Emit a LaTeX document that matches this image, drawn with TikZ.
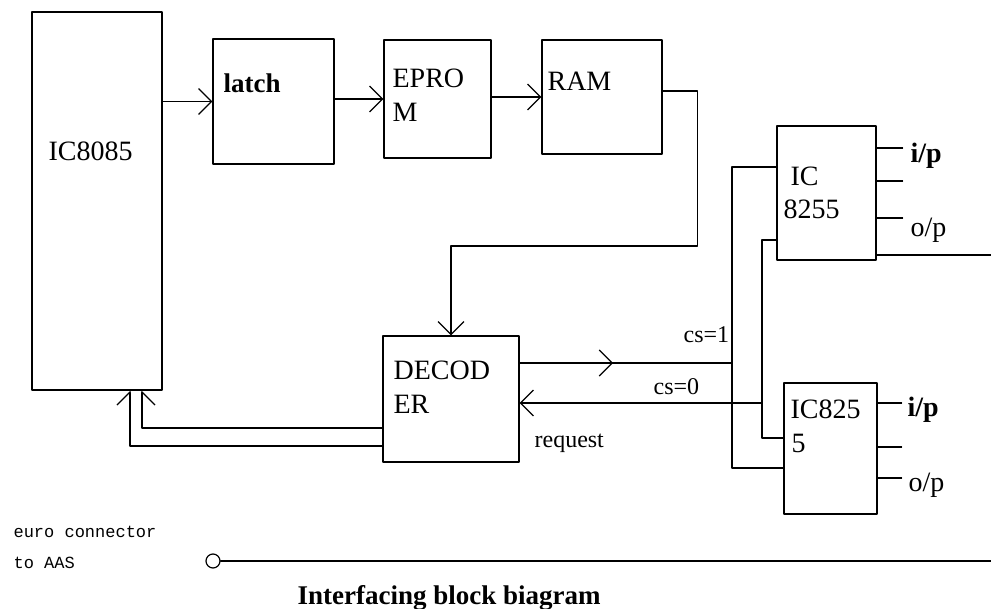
\documentclass[tikz,border=0pt]{standalone}
\usepackage{fontspec}
\setmainfont{Liberation Serif}
\newfontfamily\eurofont{Liberation Mono}
\usetikzlibrary{arrows.meta,decorations.markings}

\begin{document}
\begin{tikzpicture}[x=1pt, y=-1pt, line width=1.2pt, line cap=round, line join=round, >={Straight Barb[length=13pt,width=26pt]}]
	\tikzset{blk/.style={draw, inner sep=0},
		txt/.style={inner sep=0, anchor=base west, font=\fontsize{28}{30}\selectfont},
		small/.style={inner sep=0, anchor=base west, font=\fontsize{24}{26}\selectfont},
		midarr/.style={postaction={decorate}, decoration={markings, mark=at position #1 with {\arrow{>}}}}}
	\useasboundingbox (0,0) rectangle (991,609);
	% blocks
	\node[blk, minimum width=130pt, minimum height=378pt] (cpu) at (97,201) {};
	\node[blk, minimum width=121pt, minimum height=125pt] (latch) at (273.5,101.5) {};
	\node[blk, minimum width=107pt, minimum height=118pt] (eprom) at (437.5,99) {};
	\node[blk, minimum width=120pt, minimum height=114pt] (ram) at (602,97) {};
	\node[blk, minimum width=136pt, minimum height=126pt] (dec) at (451,399) {};
	\node[blk, minimum width=99pt, minimum height=134pt] (ppiA) at (826.5,193) {};
	\node[blk, minimum width=93pt, minimum height=131pt] (ppiB) at (830.5,448.5) {};
	\node[txt] (cpulbl) at (48,161) {IC8085};
	\node[txt, font=\fontsize{27}{30}\selectfont\bfseries] (latchlbl) at (223,93) {latch};
	\node[txt] (eprolbl) at (392,88) {EPRO};
	\node[txt] (eprolbl2) at (392,122) {M};
	\node[txt] (ramlbl) at (547,91) {RAM};
	\node[txt] (declbl) at (393,380) {DECOD};
	\node[txt] (declbl2) at (393,414) {ER};
	\node[txt] (ppialbl) at (790,186) {IC};
	\node[txt] (ppialbl2) at (783,219) {8255};
	\node[txt] (ppiblbl) at (790,419) {IC825};
	\node[txt] (ppiblbl2) at (791,453) {5};
	\node[txt, font=\fontsize{28}{30}\selectfont\bfseries] (ipA) at (910,163) {i/p};
	\node[txt] (opA) at (910,237) {o/p};
	\node[txt, font=\fontsize{28}{30}\selectfont\bfseries] (ipB) at (907,417) {i/p};
	\node[txt] (opB) at (908,492) {o/p};
	\node[small] (csonelbl) at (683,343) {cs=1};
	\node[small] (cszerolbl) at (653,395) {cs=0};
	\node[small] (reqlbl) at (534,448) {request};
	% bus
	\draw[->] (cpu.east |- latch.west) -- (latch.west);
	\draw[->] (latch.east |- eprom.west) -- (eprom.west);
	\draw[->] (eprom.east |- ram.west) -- (ram.west);
	\draw[->] ([yshift=6pt]ram.east) -- ++(35,0) -- ++(0,155) -| (dec.north);
	\coordinate (csone) at (732,363);
	\coordinate (cszero) at (762,403);
	\draw[midarr=0.44] ([yshift=36pt]dec.east) -- (csone);
	\draw[->] (cszero) -- (dec.east |- cszero);
	\draw[line width=2.4pt] (csone |- cszero) ++(-13,0) -- ++(19,0);
	\draw ([yshift=26pt]ppiA.west) -| (csone) |- ([yshift=-19.5pt]ppiB.west);
	\draw ([yshift=-47pt]ppiA.west) -| (cszero) |- ([yshift=10.5pt]ppiB.west);
	\draw[-{Straight Barb[left,length=13pt,width=26pt]}] ([yshift=-47pt]dec.west) -| ([xshift=33pt]cpu.south);
	\draw[-{Straight Barb[right,length=13pt,width=26pt]}] ([yshift=-29pt]dec.west) -| ([xshift=45pt]cpu.south);
	% pins
	\foreach \d in {45,12,-25} \draw ([yshift=\d pt]ppiA.east) -- ++(26,0);
	\foreach \d in {45.5,1.5,-29.5} \draw ([yshift=\d pt]ppiB.east) -- ++(24,0);
	\coordinate (edgeA) at (991,255);
	\draw ([yshift=-62pt]ppiA.east) -- (edgeA);
	% euro connector
	\node[draw, circle, minimum size=14pt, inner sep=0] (euro) at (213,561) {};
	\coordinate (edgeB) at (991,561);
	\draw (euro) -- (edgeB);
	\node[inner sep=0, anchor=base west, font=\eurofont\fontsize{17}{19}\selectfont] (eurolbl) at (13,537) {euro connector};
	\node[inner sep=0, anchor=base west, font=\eurofont\fontsize{17}{19}\selectfont] (eurolbl2) at (13,568) {to AAS};
	\node[txt, font=\fontsize{27}{30}\selectfont\bfseries] (title) at (297,604) {Interfacing block biagram};
\end{tikzpicture}
\end{document}
